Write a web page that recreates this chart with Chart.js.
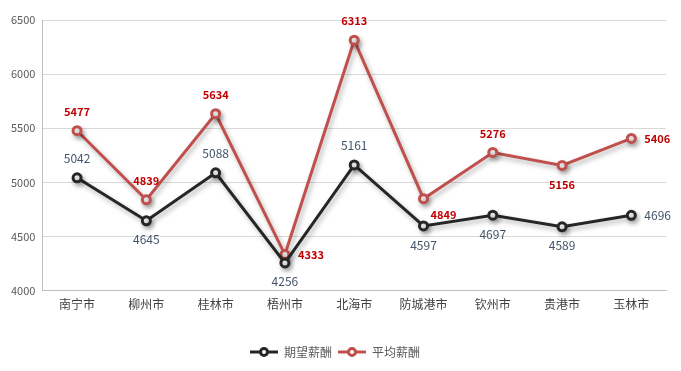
<!DOCTYPE html>
<html>
<head>
<meta charset="utf-8">
<script src="https://cdn.jsdelivr.net/npm/chart.js@4/dist/chart.umd.min.js"></script>
<style>
    html, body { margin: 0; padding: 0; background: #fff; }
    #wrap { width: 681px; height: 371px; position: relative; }
</style>
</head>
<body>
<div id="wrap"><canvas id="salaryChart"></canvas></div>
<script>
const cities = ['南宁市', '柳州市', '桂林市', '梧州市', '北海市', '防城港市', '钦州市', '贵港市', '玉林市'];
const expectedSalary = [5042, 4645, 5088, 4256, 5161, 4597, 4697, 4589, 4696];
const averageSalary = [5477, 4839, 5634, 4333, 6313, 4849, 5276, 5156, 5406];
const yTicks = [4000, 4500, 5000, 5500, 6000, 6500];

// where each value label sits relative to its point
const expectedLabelPos = ['top', 'bottom', 'top', 'bottom', 'top', 'bottom', 'bottom', 'bottom', 'right'];
const averageLabelPos = ['top', 'top', 'top', 'right', 'top', 'rightBelow', 'top', 'bottom', 'right'];

const FONT = '"Noto Sans CJK SC", "Noto Sans", sans-serif';

function legendMarker(color) {
    const c = document.createElement('canvas');
    c.width = 28; c.height = 12;
    const g = c.getContext('2d');
    g.strokeStyle = color;
    g.lineWidth = 3;
    g.beginPath(); g.moveTo(0, 6); g.lineTo(28, 6); g.stroke();
    g.fillStyle = '#fff';
    g.beginPath(); g.arc(14, 6, 3.5, 0, Math.PI * 2); g.fill(); g.stroke();
    return c;
}

const shadowPlugin = {
    id: 'lineShadow',
    beforeDatasetDraw(chart) {
        const ctx = chart.ctx;
        ctx.save();
        ctx.shadowColor = 'rgba(0,0,0,0.3)';
        ctx.shadowBlur = 5;
        ctx.shadowOffsetX = 2;
        ctx.shadowOffsetY = 3;
    },
    afterDatasetDraw(chart) {
        chart.ctx.restore();
    }
};

const valueLabels = {
    id: 'valueLabels',
    afterDatasetsDraw(chart) {
        const ctx = chart.ctx;
        chart.data.datasets.forEach((ds, i) => {
            const meta = chart.getDatasetMeta(i);
            ctx.save();
            ctx.font = ds.labelFont;
            ctx.fillStyle = ds.labelColor;
            meta.data.forEach((pt, j) => {
                const pos = ds.labelPos[j];
                let x = pt.x, y = pt.y;
                ctx.textAlign = 'center';
                ctx.textBaseline = 'middle';
                if (pos === 'top') y -= 19;
                else if (pos === 'bottom') y += 19;
                else if (pos === 'right') { x += 13; ctx.textAlign = 'left'; }
                else if (pos === 'rightBelow') { x += 7; y += 16; ctx.textAlign = 'left'; }
                ctx.fillText(String(ds.data[j]), x, y);
            });
            ctx.restore();
        });
    }
};

new Chart(document.getElementById('salaryChart'), {
    type: 'line',
    data: {
        labels: cities,
        datasets: [
            {
                label: '期望薪酬',
                data: expectedSalary,
                borderColor: '#262626',
                backgroundColor: '#fff',
                borderWidth: 3,
                pointRadius: 4,
                pointBorderWidth: 3,
                pointBackgroundColor: '#fff',
                pointBorderColor: '#262626',
                tension: 0,
                labelPos: expectedLabelPos,
                labelColor: '#44546A',
                labelFont: '12px ' + FONT,
            },
            {
                label: '平均薪酬',
                data: averageSalary,
                borderColor: '#C0504D',
                backgroundColor: '#fff',
                borderWidth: 3,
                pointRadius: 4,
                pointBorderWidth: 3,
                pointBackgroundColor: '#fff',
                pointBorderColor: '#C0504D',
                tension: 0,
                labelPos: averageLabelPos,
                labelColor: '#C00000',
                labelFont: 'bold 11px ' + FONT,
            }
        ]
    },
    options: {
        responsive: true,
        maintainAspectRatio: false,
        animation: false,
        layout: { padding: { top: 20, right: 15, left: 4, bottom: 3 } },
        plugins: {
            legend: {
                position: 'bottom',
                labels: {
                    color: '#595959',
                    font: { size: 12, family: FONT },
                    usePointStyle: true,
                    pointStyleWidth: 28,
                    boxHeight: 12,
                    padding: 6,
                    generateLabels(chart) {
                        return chart.data.datasets.map((ds, i) => ({
                            text: ds.label,
                            pointStyle: legendMarker(ds.borderColor),
                            datasetIndex: i,
                            fontColor: '#595959'
                        }));
                    }
                }
            },
            tooltip: { enabled: false }
        },
        scales: {
            x: {
                offset: true,
                grid: { display: false, drawTicks: false },
                border: { color: '#BFBFBF' },
                ticks: { color: '#404040', font: { size: 12, family: FONT }, padding: 7 },
                afterFit(axis) { axis.height += 21; }
            },
            y: {
                min: yTicks[0],
                max: yTicks[yTicks.length - 1],
                afterBuildTicks(axis) { axis.ticks = yTicks.map(v => ({ value: v })); },
                grid: { color: '#D9D9D9', drawTicks: false },
                border: { color: '#BFBFBF' },
                ticks: {
                    color: '#595959',
                    font: { size: 11, family: FONT },
                    padding: 7,
                    callback: v => String(v)
                }
            }
        }
    },
    plugins: [shadowPlugin, valueLabels]
});
</script>
</body>
</html>
